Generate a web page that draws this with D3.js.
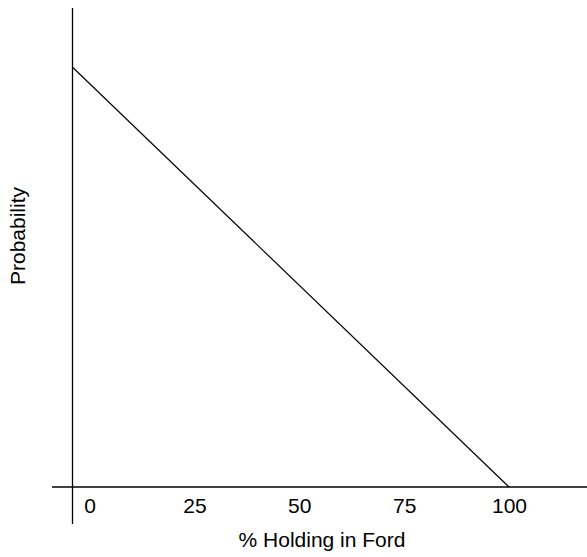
<!DOCTYPE html>
<html><head><meta charset="utf-8">
<script src="https://cdn.jsdelivr.net/npm/d3@7"></script>
<style>body{margin:0;background:#fff}svg{display:block}text{font-family:"Liberation Sans",Arial,sans-serif;fill:#000}</style>
</head><body>
<script>
const xTicks = [0, 25, 50, 75, 100];
const xTickLabels = ["0", "25", "50", "75", "100"];
const lineX = [-4.1, 100];
const lineY = [1, 0];
const xTitle = "% Holding in Ford";
const yTitle = "Probability";

const W = 587, H = 557;
const svg = d3.select("body").append("svg").attr("width", W).attr("height", H);
const x = d3.scaleLinear().domain([0, 100]).range([89.5, 509]);
const y = d3.scaleLinear().domain([0, 1]).range([487, 67]);
const yAxisX = 72.5;

// axes lines
svg.append("line").attr("x1", yAxisX).attr("x2", yAxisX).attr("y1", 8).attr("y2", 524)
  .attr("stroke", "#000").attr("stroke-width", 1.3);
svg.append("line").attr("x1", 52).attr("x2", W).attr("y1", y(0)).attr("y2", y(0))
  .attr("stroke", "#000").attr("stroke-width", 1.3);

// tick labels
const xAxis = d3.axisBottom(x).tickValues(xTicks).tickFormat((d, i) => xTickLabels[i]).tickSize(0).tickPadding(0);
const gx = svg.append("g").attr("transform", `translate(0,${y(0)})`).call(xAxis);
gx.select(".domain").remove();
gx.selectAll("text").attr("dy", null).attr("y", 25.5).style("font-size", "21px")
  .style("font-family", "'Liberation Sans', Arial, sans-serif").attr("fill", "#000");

// data line
const pts = lineX.map((v, i) => [v, lineY[i]]);
svg.append("path").datum(pts)
  .attr("d", d3.line().x(d => x(d[0])).y(d => y(d[1])))
  .attr("fill", "none").attr("stroke", "#000").attr("stroke-width", 1.2);

// titles
svg.append("text").attr("x", 322).attr("y", 547).attr("text-anchor", "middle")
  .style("font-size", "21px").text(xTitle);
svg.append("text").attr("transform", "translate(25,236) rotate(-90)").attr("text-anchor", "middle")
  .style("font-size", "21px").text(yTitle);
</script>
</body></html>
